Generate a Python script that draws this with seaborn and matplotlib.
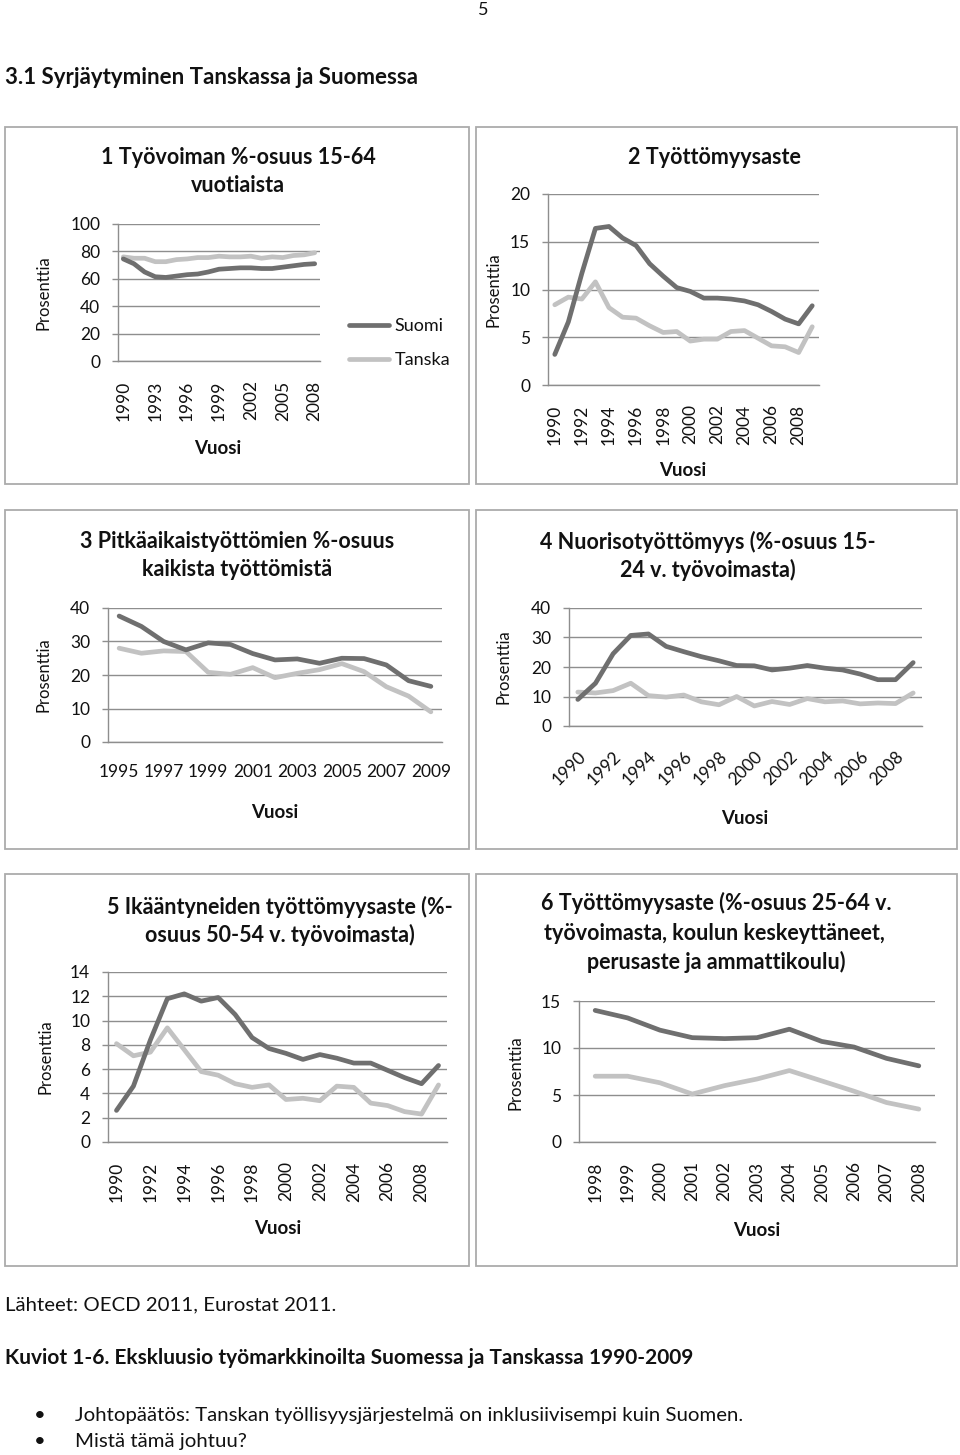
import numpy as np
import pandas as pd
import matplotlib
matplotlib.use('Agg')
import matplotlib.pyplot as plt
import seaborn as sns
from matplotlib.patches import Rectangle
from matplotlib.lines import Line2D

W, H = 960, 1455

# 1 Työvoiman %-osuus 15-64 vuotiaista
vuodet_1 = list(range(1990, 2009))
suomi_1 = [74.5, 71, 65, 61.5, 61, 62, 63, 63.5, 65, 67, 67.5, 68, 68, 67.5, 67.5, 68.5, 69.5, 70.5, 71]
tanska_1 = [76, 75, 75, 72.5, 72.5, 74, 74.5, 75.5, 75.5, 76.5, 76, 76, 76.5, 75, 76, 75.5, 77, 77.5, 79]

# 2 Työttömyysaste
vuodet_2 = list(range(1990, 2010))
suomi_2 = [3.2, 6.6, 11.7, 16.4, 16.6, 15.4, 14.6, 12.7, 11.4, 10.2, 9.8, 9.1, 9.1, 9.0, 8.8, 8.4, 7.7, 6.9, 6.4, 8.3]
tanska_2 = [8.4, 9.2, 9.0, 10.8, 8.1, 7.1, 7.0, 6.2, 5.5, 5.6, 4.6, 4.8, 4.8, 5.6, 5.7, 4.9, 4.1, 4.0, 3.4, 6.1]

# 3 Pitkäaikaistyöttömien %-osuus
vuodet_3 = list(range(1995, 2010))
suomi_3 = [37.6, 34.5, 30, 27.5, 29.6, 29.1, 26.4, 24.5, 24.8, 23.5, 25, 24.9, 23, 18.3, 16.6]
tanska_3 = [28, 26.5, 27.2, 27, 20.8, 20.2, 22.2, 19.2, 20.5, 21.6, 23.4, 21, 16.5, 13.7, 9]

# 4 Nuorisotyöttömyys
vuodet_4 = list(range(1990, 2010))
suomi_4 = [9, 14.5, 24.5, 30.7, 31.2, 27, 25.2, 23.5, 22.1, 20.5, 20.4, 19, 19.6, 20.5, 19.6, 19, 17.6, 15.7, 15.7, 21.5]
tanska_4 = [11.5, 11.2, 12, 14.5, 10.3, 9.8, 10.5, 8.2, 7.2, 10, 6.8, 8.3, 7.3, 9.3, 8.2, 8.5, 7.5, 7.8, 7.6, 11.2]

# 5 Ikääntyneiden työttömyysaste
vuodet_5 = list(range(1990, 2010))
suomi_5 = [2.6, 4.6, 8.4, 11.8, 12.2, 11.6, 11.9, 10.5, 8.6, 7.7, 7.3, 6.8, 7.2, 6.9, 6.5, 6.5, 5.9, 5.3, 4.8, 6.3]
tanska_5 = [8.1, 7.1, 7.4, 9.4, 7.6, 5.8, 5.5, 4.8, 4.5, 4.7, 3.5, 3.6, 3.4, 4.6, 4.5, 3.2, 3.0, 2.5, 2.3, 4.7]

# 6 Työttömyysaste 25-64 v., matala koulutus
vuodet_6 = list(range(1998, 2009))
suomi_6 = [14, 13.2, 11.9, 11.1, 11, 11.1, 12, 10.7, 10.1, 8.9, 8.1]
tanska_6 = [7, 7, 6.3, 5.1, 6, 6.7, 7.6, 6.5, 5.4, 4.2, 3.5]

PALETTE = {'Suomi': '#6f6f6f', 'Tanska': '#c2c2c2'}
GRID = '#8e8e8e'
TXT = '#111111'
TITLE_FS = 15.5
VUOSI_FS = 13.5

sns.set_theme(style="white")
plt.rcParams['font.family'] = ['Lato', 'DejaVu Sans']

fig = plt.figure(figsize=(9.6, 14.55), dpi=100)
fig.patch.set_facecolor('white')


def fx(x):
    return x / W


def fy(y):
    return 1 - y / H


def add_box(x0, y0, x1, y1):
    fig.patches.append(Rectangle((fx(x0), fy(y1)), (x1 - x0) / W, (y1 - y0) / H,
                                 transform=fig.transFigure, fill=False,
                                 edgecolor='#ababab', lw=1.3))


def txt(x, y, s, **kw):
    kw.setdefault('color', TXT)
    fig.text(fx(x), fy(y), s, **kw)


def title(x, y, s):
    txt(x, y, s, ha='center', va='center', fontsize=TITLE_FS, fontweight='bold')


def panel(rect, vuodet, suomi, tanska, ylim, yticks, xlim, xticks, rot=90, pad=14):
    x0, y0, x1, y1 = rect
    ax = fig.add_axes([fx(x0), fy(y1), (x1 - x0) / W, (y1 - y0) / H])
    df = pd.DataFrame({
        'Vuosi': vuodet + vuodet,
        'Prosenttia': suomi + tanska,
        'Maa': ['Suomi'] * len(vuodet) + ['Tanska'] * len(vuodet),
    })
    sns.lineplot(data=df, x='Vuosi', y='Prosenttia', hue='Maa', palette=PALETTE,
                 hue_order=['Tanska', 'Suomi'], linewidth=3.4, legend=False, ax=ax)
    ax.set_xlim(xlim)
    ax.set_ylim(ylim)
    ax.set_yticks(yticks)
    ax.set_xticks(xticks)
    ax.grid(axis='y', color=GRID, lw=1)
    ax.grid(axis='x', visible=False)
    ax.set_axisbelow(True)
    for s in ['top', 'right']:
        ax.spines[s].set_visible(False)
    for s in ['left', 'bottom']:
        ax.spines[s].set_color(GRID)
        ax.spines[s].set_linewidth(1)
    ax.tick_params(axis='y', length=4.3, width=1, color=GRID, pad=8.5,
                   labelsize=12.5, labelcolor=TXT, left=True)
    if rot == 45:
        ax.set_xticklabels([str(v) for v in xticks], rotation=45, ha='right',
                           rotation_mode='anchor')
    ax.tick_params(axis='x', length=0, pad=pad, labelsize=12.5, labelcolor=TXT)
    if rot == 90:
        ax.tick_params(axis='x', labelrotation=90)
    ax.set_xlabel('')
    ax.set_ylabel('')
    ax.patch.set_alpha(0)
    return ax


# page frames
add_box(5, 127, 469, 484)
add_box(476, 127, 957, 484)
add_box(5, 510, 469, 849)
add_box(476, 510, 957, 849)
add_box(5, 874, 469, 1266)
add_box(476, 874, 957, 1266)

# page texts
txt(483, 10, '5', ha='center', va='center', fontsize=13)
txt(5, 78, '3.1 Syrjäytyminen Tanskassa ja Suomessa', ha='left', va='center',
    fontsize=16, fontweight='bold')
txt(5, 1305, 'Lähteet: OECD 2011, Eurostat 2011.', ha='left', va='center', fontsize=14.7)
txt(5, 1358, 'Kuviot 1-6. Ekskluusio työmarkkinoilta Suomessa ja Tanskassa 1990-2009',
    ha='left', va='center', fontsize=15, fontweight='bold')
txt(40, 1415, '•', ha='center', va='center', fontsize=14.7)
txt(40, 1442, '•', ha='center', va='center', fontsize=14.7)
txt(75, 1415, 'Johtopäätös: Tanskan työllisyysjärjestelmä on inklusiivisempi kuin Suomen.',
    ha='left', va='center', fontsize=14.7)
txt(75, 1442, 'Mistä tämä johtuu?', ha='left', va='center', fontsize=14.7)

# 1
ax1 = panel((118, 224, 320, 361), vuodet_1, suomi_1, tanska_1, (0, 100),
            [0, 20, 40, 60, 80, 100], (1989.5, 2008.5), list(range(1990, 2009, 3)))
title(238, 157, '1 Työvoiman %-osuus 15-64')
title(238, 185, 'vuotiaista')
txt(43, 293, 'Prosenttia', rotation=90, ha='center', va='center', fontsize=12)
txt(218, 448, 'Vuosi', ha='center', va='center', fontsize=VUOSI_FS, fontweight='bold')
handles = [Line2D([], [], color=PALETTE['Suomi'], lw=3.4),
           Line2D([], [], color=PALETTE['Tanska'], lw=3.4)]
ax1.legend(handles, ['Suomi', 'Tanska'], loc='center left',
           bbox_to_anchor=(fx(333), fy(343)), bbox_transform=fig.transFigure,
           frameon=False, fontsize=13, handlelength=2.2, handletextpad=0.3,
           labelspacing=1.0, labelcolor=TXT)

# 2
panel((548, 194, 819, 385), vuodet_2, suomi_2, tanska_2, (0, 20),
      [0, 5, 10, 15, 20], (1989.5, 2009.5), list(range(1990, 2009, 2)))
title(714, 157, '2 Työttömyysaste')
txt(493, 290, 'Prosenttia', rotation=90, ha='center', va='center', fontsize=12)
txt(683, 470, 'Vuosi', ha='center', va='center', fontsize=VUOSI_FS, fontweight='bold')

# 3
panel((108, 608, 442, 742), vuodet_3, suomi_3, tanska_3, (0, 40),
      [0, 10, 20, 30, 40], (1994.5, 2009.5), list(range(1995, 2010, 2)), rot=0, pad=16)
title(237, 542, '3 Pitkäaikaistyöttömien %-osuus')
title(237, 570, 'kaikista työttömistä')
txt(44, 675, 'Prosenttia', rotation=90, ha='center', va='center', fontsize=12)
txt(275, 813, 'Vuosi', ha='center', va='center', fontsize=VUOSI_FS, fontweight='bold')

# 4
panel((569, 608, 922, 726), vuodet_4, suomi_4, tanska_4, (0, 40),
      [0, 10, 20, 30, 40], (1989.5, 2009.5), list(range(1990, 2009, 2)), rot=45, pad=16)
title(708, 542, '4 Nuorisotyöttömyys (%-osuus 15-')
title(708, 570, '24 v. työvoimasta)')
txt(504, 667, 'Prosenttia', rotation=90, ha='center', va='center', fontsize=12)
txt(745, 818, 'Vuosi', ha='center', va='center', fontsize=VUOSI_FS, fontweight='bold')

# 5
panel((108, 972, 447, 1142), vuodet_5, suomi_5, tanska_5, (0, 14),
      [0, 2, 4, 6, 8, 10, 12, 14], (1989.5, 2009.5), list(range(1990, 2009, 2)))
title(280, 907, '5 Ikääntyneiden työttömyysaste (%-')
title(280, 935, 'osuus 50-54 v. työvoimasta)')
txt(45, 1057, 'Prosenttia', rotation=90, ha='center', va='center', fontsize=12)
txt(278, 1228, 'Vuosi', ha='center', va='center', fontsize=VUOSI_FS, fontweight='bold')

# 6
panel((579, 1001, 935, 1142), vuodet_6, suomi_6, tanska_6, (0, 15),
      [0, 5, 10, 15], (1997.5, 2008.5), list(range(1998, 2009)))
title(716, 903, '6 Työttömyysaste (%-osuus 25-64 v.')
title(714, 933, 'työvoimasta, koulun keskeyttäneet,')
title(716, 962, 'perusaste ja ammattikoulu)')
txt(515, 1073, 'Prosenttia', rotation=90, ha='center', va='center', fontsize=12)
txt(757, 1230, 'Vuosi', ha='center', va='center', fontsize=VUOSI_FS, fontweight='bold')

fig.savefig('out.png', dpi=100, facecolor='white')
